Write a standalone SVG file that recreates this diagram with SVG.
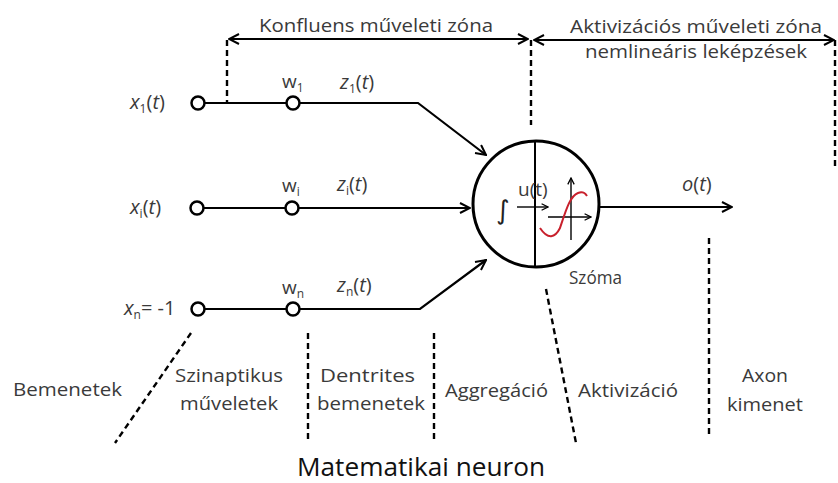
<svg xmlns="http://www.w3.org/2000/svg" width="838" height="483" viewBox="0 0 838 483">
<defs>
<style>
.t{font-family:"Open Sans","Liberation Sans",sans-serif;fill:#3a3a3a;font-size:19px}
.m{font-family:"Open Sans","Liberation Sans",sans-serif;fill:#3a3a3a;font-size:20px;font-style:italic}
.sub{font-size:12px;font-style:normal}
.big{font-size:26px;fill:#111}
.ln{stroke:#000;stroke-width:2.2;fill:none}
.ds{stroke:#000;stroke-width:2.4;fill:none;stroke-dasharray:6 4}
.node{stroke:#000;stroke-width:2.5;fill:#fff}
</style>
<marker id="ah" viewBox="0 0 12 12" refX="11" refY="6" markerWidth="12" markerHeight="12" markerUnits="userSpaceOnUse" orient="auto-start-reverse">
<path d="M1,1 L11,6 L1,11" fill="none" stroke="#000" stroke-width="2"/>
</marker>
<marker id="ahs" viewBox="0 0 10 10" refX="9" refY="5" markerWidth="8" markerHeight="8" markerUnits="userSpaceOnUse" orient="auto">
<path d="M1,1 L9,5 L1,9" fill="none" stroke="#000" stroke-width="1.6"/>
</marker>
</defs>
<rect width="838" height="483" fill="#fff"/>

<g id="connectors">
<line class="ln" x1="229" y1="39" x2="528" y2="39" marker-start="url(#ah)" marker-end="url(#ah)"/>
<line class="ln" x1="534" y1="40" x2="834" y2="40" marker-start="url(#ah)" marker-end="url(#ah)"/>
<line class="ds" x1="227" y1="40" x2="227" y2="102"/>
<line class="ds" x1="531" y1="40" x2="531" y2="125"/>
<line class="ds" x1="835" y1="40" x2="835" y2="166"/>
<polyline class="ln" points="204,103 418,103 486,155" marker-end="url(#ah)"/>
<line class="ln" x1="204" y1="208" x2="470" y2="208" marker-end="url(#ah)"/>
<polyline class="ln" points="204,309 420,309 486,260" marker-end="url(#ah)"/>
<line class="ln" x1="600" y1="207" x2="732" y2="207" marker-end="url(#ah)"/>
<line class="ds" x1="191" y1="333" x2="115" y2="443"/>
<line class="ds" x1="308" y1="333" x2="308" y2="443"/>
<line class="ds" x1="434" y1="333" x2="434" y2="443"/>
<line class="ds" x1="546" y1="289" x2="576" y2="443"/>
<line class="ds" x1="709" y1="238" x2="709" y2="436"/>
</g>

<g id="inputs">
<circle class="node" cx="198" cy="103" r="6.5"/>
<circle class="node" cx="197" cy="208" r="6.5"/>
<circle class="node" cx="198" cy="309" r="6.5"/>
<text class="m" x="130" y="109">x<tspan class="sub" dy="4">1</tspan><tspan dy="-4" font-style="normal">(</tspan>t<tspan font-style="normal">)</tspan></text>
<text class="m" x="130" y="214">x<tspan class="sub" dy="4">i</tspan><tspan dy="-4" font-style="normal">(</tspan>t<tspan font-style="normal">)</tspan></text>
<text class="m" x="124" y="315">x<tspan class="sub" dy="4">n</tspan><tspan dy="-4" font-style="normal">= -1</tspan></text>
</g>

<g id="weights">
<circle class="node" cx="293" cy="103" r="6.5"/>
<circle class="node" cx="292" cy="208" r="6.5"/>
<circle class="node" cx="293" cy="309" r="6.5"/>
<text class="t" x="282" y="88">w<tspan class="sub" dy="4">1</tspan></text>
<text class="t" x="282" y="192">w<tspan class="sub" dy="4">i</tspan></text>
<text class="t" x="282" y="294">w<tspan class="sub" dy="4">n</tspan></text>
<text class="m" x="340" y="89">z<tspan class="sub" dy="4">1</tspan><tspan dy="-4" font-style="normal">(</tspan>t<tspan font-style="normal">)</tspan></text>
<text class="m" x="337" y="191">z<tspan class="sub" dy="4">i</tspan><tspan dy="-4" font-style="normal">(</tspan>t<tspan font-style="normal">)</tspan></text>
<text class="m" x="337" y="292">z<tspan class="sub" dy="4">n</tspan><tspan dy="-4" font-style="normal">(</tspan>t<tspan font-style="normal">)</tspan></text>
</g>

<g id="soma">
<circle cx="536" cy="204" r="63" fill="#fff" stroke="#000" stroke-width="3"/>
<line x1="535" y1="141" x2="535" y2="267" stroke="#000" stroke-width="2"/>
<text x="496" y="219" font-family="DejaVu Sans, sans-serif" font-size="26" fill="#222">∫</text>
<text class="t" x="518" y="196" font-size="11">u(t)</text>
<line x1="517" y1="207" x2="548" y2="207" stroke="#000" stroke-width="1.4" marker-end="url(#ahs)"/>
<line x1="571" y1="240" x2="571" y2="178" stroke="#000" stroke-width="1.4" marker-end="url(#ahs)"/>
<line x1="548" y1="217" x2="591" y2="217" stroke="#000" stroke-width="1.4" marker-end="url(#ahs)"/>
<path d="M540,228 C548,240 555,238 560,228 C566,210 570,196 578,193 C583,191 585,193 587,196" fill="none" stroke="#c8202c" stroke-width="2"/>
<text class="t" x="569" y="284" textLength="53" lengthAdjust="spacingAndGlyphs">Szóma</text>
</g>

<g id="output">
<text class="m" x="682" y="191">o<tspan font-style="normal">(</tspan>t<tspan font-style="normal">)</tspan></text>
</g>

<g id="zones">
<text class="t" x="259" y="32" textLength="234" lengthAdjust="spacingAndGlyphs">Konfluens műveleti zóna</text>
<text class="t" x="570" y="33" textLength="252" lengthAdjust="spacingAndGlyphs">Aktivizációs műveleti zóna</text>
<text class="t" x="585" y="58" textLength="222" lengthAdjust="spacingAndGlyphs">nemlineáris leképzések</text>
</g>

<g id="labels">
<text class="t" x="13" y="396" textLength="109" lengthAdjust="spacingAndGlyphs">Bemenetek</text>
<text class="t" x="175" y="382" textLength="108" lengthAdjust="spacingAndGlyphs">Szinaptikus</text>
<text class="t" x="180" y="410" textLength="98" lengthAdjust="spacingAndGlyphs">műveletek</text>
<text class="t" x="320" y="382" textLength="95" lengthAdjust="spacingAndGlyphs">Dentrites</text>
<text class="t" x="317" y="410" textLength="108" lengthAdjust="spacingAndGlyphs">bemenetek</text>
<text class="t" x="445" y="397" textLength="103" lengthAdjust="spacingAndGlyphs">Aggregáció</text>
<text class="t" x="578" y="397" textLength="100" lengthAdjust="spacingAndGlyphs">Aktivizáció</text>
<text class="t" x="742" y="382" textLength="46" lengthAdjust="spacingAndGlyphs">Axon</text>
<text class="t" x="727" y="411" textLength="76" lengthAdjust="spacingAndGlyphs">kimenet</text>
<text class="t big" x="297" y="476" textLength="248" lengthAdjust="spacingAndGlyphs">Matematikai neuron</text>
</g>
</svg>
